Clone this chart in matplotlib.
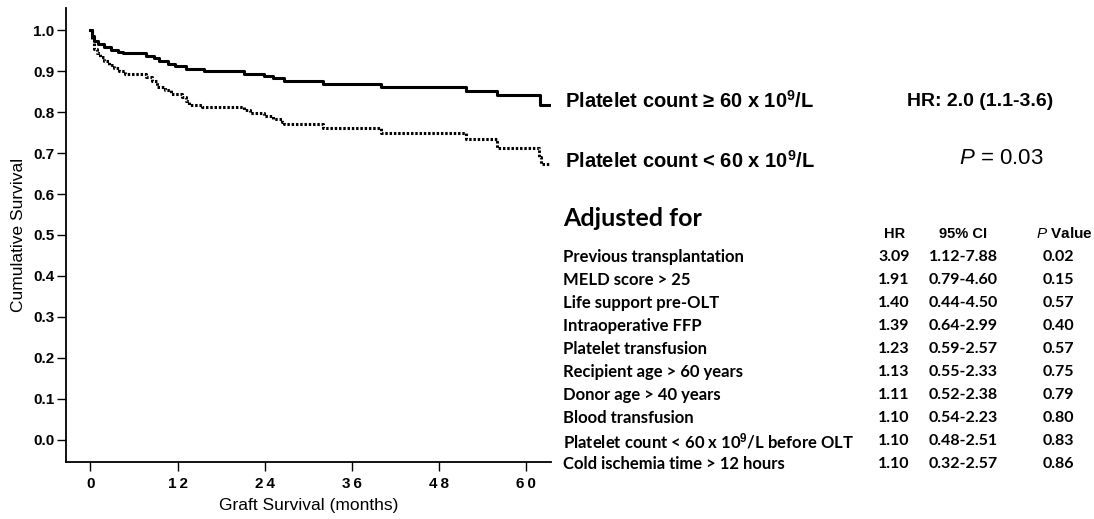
import numpy as np
import matplotlib
matplotlib.use("Agg")
import matplotlib.pyplot as plt

plt.rcParams['font.family'] = ['Liberation Sans', 'DejaVu Sans']
plt.rcParams['mathtext.fontset'] = 'custom'
plt.rcParams['mathtext.rm'] = 'Liberation Sans'
plt.rcParams['mathtext.it'] = 'Liberation Sans:italic'
plt.rcParams['mathtext.bf'] = 'Liberation Sans:bold'

# Kaplan-Meier steps (months, survival)
t_high = [0, 0.25, 0.44, 1.08, 1.82, 2.8, 3.78, 4.52, 7.7, 8.7, 9.43, 10.66, 11.65,
          13.1, 15.6, 21.2, 23.9, 25.2, 26.6, 32.0, 40.0, 51.7, 55.9, 61.9, 63.4]
s_high = [1.0, 0.985, 0.973, 0.965, 0.958, 0.952, 0.946, 0.943, 0.938, 0.932, 0.924,
          0.918, 0.913, 0.905, 0.900, 0.894, 0.888, 0.882, 0.876, 0.868, 0.860, 0.851,
          0.841, 0.817, 0.817]

t_low = [0, 0.25, 0.5, 0.84, 1.33, 1.82, 2.56, 3.3, 4.0, 4.77, 7.7, 8.45, 9.2, 10.2,
         11.15, 12.6, 13.1, 13.6, 15.3, 21.2, 22.0, 23.9, 25.2, 26.4, 26.6, 32.0, 40.0,
         51.7, 55.9, 61.8, 62.0, 63.4]
s_low = [1.0, 0.975, 0.955, 0.945, 0.935, 0.925, 0.915, 0.908, 0.900, 0.893, 0.885,
         0.875, 0.862, 0.853, 0.845, 0.838, 0.826, 0.818, 0.812, 0.805, 0.797, 0.790,
         0.784, 0.775, 0.770, 0.760, 0.750, 0.735, 0.712, 0.690, 0.673, 0.673]

x_ticks = [0, 12, 24, 36, 48, 60]
y_ticks = [0.0, 0.1, 0.2, 0.3, 0.4, 0.5, 0.6, 0.7, 0.8, 0.9, 1.0]

factors = ["Previous transplantation", "MELD score > 25", "Life support pre-OLT",
           "Intraoperative FFP", "Platelet transfusion", "Recipient age > 60 years",
           "Donor age > 40 years", "Blood transfusion",
           "Platelet count < 60 x 10$^{\\bf 9}$/L before OLT",
           "Cold ischemia time > 12 hours"]
hr = ["3.09", "1.91", "1.40", "1.39", "1.23", "1.13", "1.11", "1.10", "1.10", "1.10"]
ci = ["1.12-7.88", "0.79-4.60", "0.44-4.50", "0.64-2.99", "0.59-2.57", "0.55-2.33",
      "0.52-2.38", "0.54-2.23", "0.48-2.51", "0.32-2.57"]
pval = ["0.02", "0.15", "0.57", "0.40", "0.57", "0.75", "0.79", "0.80", "0.83", "0.86"]

W, H = 1094, 519
fig = plt.figure(figsize=(W / 100, H / 100), dpi=100)
ax = fig.add_axes([66 / W, 1 - 462 / H, (551 - 66) / W, (462 - 8) / H])

ax.step(t_high, s_high, where='post', color='black', lw=2.2)
ax.step(t_low, s_low, where='post', color='black', lw=2.2, linestyle=(0, (0.8, 0.6)))

ax.set_xlim(-3.36, 63.4)
ax.set_ylim(-0.054, 1.054)
ax.set_xticks(x_ticks)
ax.set_yticks(y_ticks)
# spaced-out digits like the original
ax.set_xticklabels(["\u2009".join(str(v)) for v in x_ticks], fontweight='bold', fontsize=11)
ax.set_yticklabels(["%.1f" % v for v in y_ticks], fontweight='bold', fontsize=11)
ax.spines['top'].set_visible(False)
ax.spines['right'].set_visible(False)
ax.spines['left'].set_linewidth(1.3)
ax.spines['bottom'].set_linewidth(1.3)
ax.tick_params(direction='out', length=6.5, width=1, pad=2)
ax.tick_params(axis='x', pad=4)
ax.set_xlabel("Graft Survival (months)", fontsize=12.5, labelpad=5)
ax.set_ylabel("Cumulative Survival", fontsize=12.5, labelpad=5)


def px(x, y):
    return x / W, 1 - y / H


fig.text(*px(565, 101), "Platelet count ≥ 60 x 10$^{\\bf 9}$/L", fontsize=14.5,
         fontweight='bold', va='center', ha='left')
fig.text(*px(565, 161), "Platelet count < 60 x 10$^{\\bf 9}$/L", fontsize=14.5,
         fontweight='bold', va='center', ha='left')
fig.text(*px(980, 101), "HR: 2.0 (1.1-3.6)", fontsize=14, fontweight='bold',
         va='center', ha='center')
fig.text(*px(1001, 158), "$\\it{P}$ = 0.03", fontsize=16, va='center', ha='center')

fig.text(*px(563, 218), "Adjusted for", fontsize=18, fontweight='bold',
         family=['Lato', 'DejaVu Sans'], va='center', ha='left')

fig.text(*px(895, 234), "HR", fontsize=10.5, fontweight='bold', va='center', ha='center')
fig.text(*px(963, 234), "95% CI", fontsize=10.5, fontweight='bold', va='center', ha='center')
fig.text(*px(1064, 234), "$\\it{P}$ Value", fontsize=11, fontweight='bold',
         va='center', ha='center')

for i in range(len(factors)):
    y = 257 + 23 * i
    fig.text(*px(563, y), factors[i], fontsize=12, fontweight='bold',
             family=['Lato', 'DejaVu Sans'], va='center', ha='left')
    fig.text(*px(894, y), hr[i], fontsize=11.5, fontweight='bold',
             family=['Lato', 'DejaVu Sans'], va='center', ha='center')
    fig.text(*px(963, y), ci[i], fontsize=11.5, fontweight='bold',
             family=['Lato', 'DejaVu Sans'], va='center', ha='center')
    fig.text(*px(1058, y), pval[i], fontsize=11.5, fontweight='bold',
             family=['Lato', 'DejaVu Sans'], va='center', ha='center')

fig.savefig("out.png", dpi=100)
